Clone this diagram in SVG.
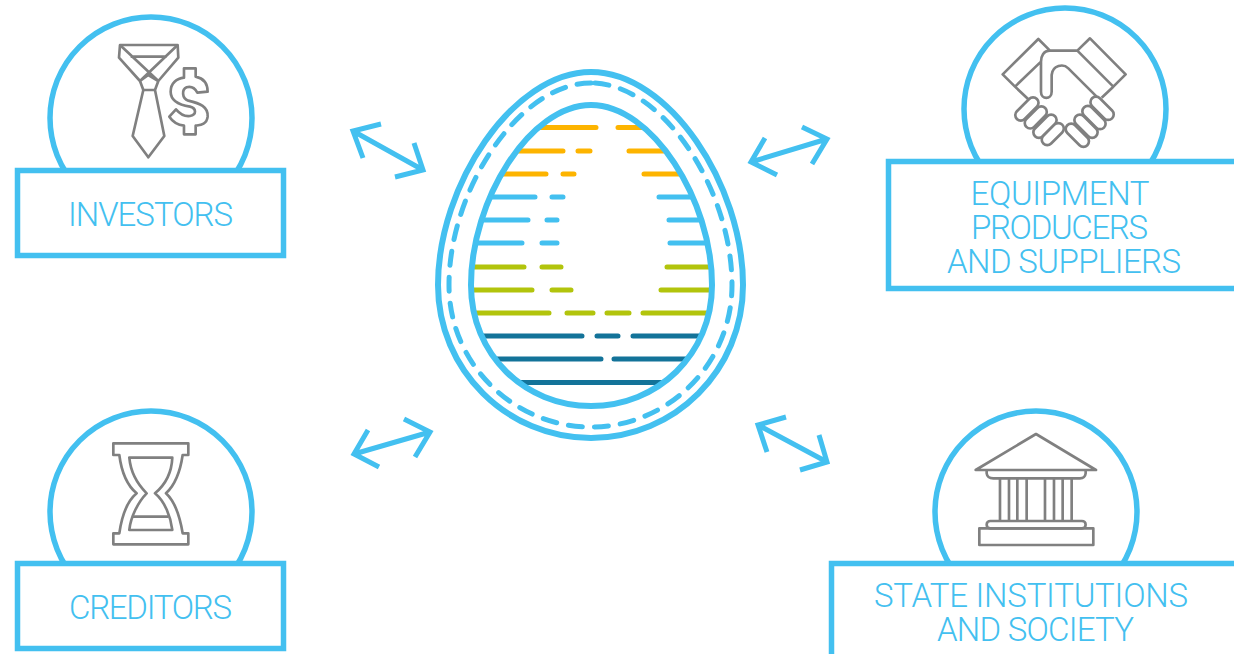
<svg xmlns="http://www.w3.org/2000/svg" width="1234" height="654" viewBox="0 0 1234 654">
<style>
.ln{fill:none;stroke:#43c0f0;stroke-width:6}
.cr{fill:none;stroke:#43c0f0;stroke-width:5.5}
.box{fill:#fff;stroke:#43c0f0;stroke-width:5.5}
.lbl{font-family:"Roboto","Liberation Sans",sans-serif;font-weight:300;font-size:33px;fill:#43c0f0;text-anchor:middle}
.ic{fill:none;stroke:#808080;stroke-width:8;stroke-linejoin:round}
.icw{fill:#fff;stroke:#808080;stroke-width:8}
.ar{fill:none;stroke:#43c0f0;stroke-width:5;stroke-linejoin:miter}
.b{fill:none;stroke-width:5;stroke-linecap:round}
</style>
<defs>
<clipPath id="eggclip"><path d="M591 105C530 105 471 200 471 285C471 355 525 406 591 406C657 406 712 355 712 285C712 200 652 105 591 105Z"/></clipPath>
</defs>
<g id="investors">
<circle class="cr" cx="151" cy="118" r="101"/>
<rect class="box" x="17.500" y="170.500" width="266" height="85"/>
<text class="lbl" x="150.500" y="226" textLength="165" lengthAdjust="spacing">INVESTORS</text>
<g transform="translate(40 10) scale(.3333)">
<path class="ic" d="M240 105H413L415 143L355 213L345 240L373 378L325 442L278 378L310 240L300 213L237 143Z"/>
<path class="ic" d="M240 105L355 213M413 105L300 213M272 140H380M310 240H345M300 213L325 195L355 213"/>
<path class="ic" d="M432 175H467V200C490 205 503 220 503 245L472 248C465 235 455 228 440 232C425 238 425 265 445 272C480 280 505 290 503 320C500 345 480 345 467 347V373H432V347C415 345 398 335 388 320L408 298C420 312 435 320 450 318C470 315 470 295 450 290C420 285 392 275 392 245C392 220 410 205 432 203Z"/>
</g>
</g>
<g id="equipment">
<circle class="cr" cx="1065" cy="109" r="101"/>
<rect class="box" x="888.500" y="161.500" width="360" height="127"/>
<text class="lbl" x="1060" y="205" textLength="179" lengthAdjust="spacing">EQUIPMENT</text>
<text class="lbl" x="1059.500" y="239" textLength="177" lengthAdjust="spacing">PRODUCERS</text>
<text class="lbl" x="1064" y="273" textLength="234" lengthAdjust="spacing">AND SUPPLIERS</text>
<g transform="translate(960 0) scale(.3333)">
<path class="ic" d="M270 152L235 117L128 223L165 260L205 298M165 260L243 185M352 152L390 115L497 223L460 260L425 293M460 260L352 152H270C250 152 243 170 243 185V275C243 300 275 300 275 275V225C278 195 310 190 325 205L410 290"/>
<rect class="icw" x="158" y="311" width="85" height="33" rx="16.500" transform="rotate(-45 200 327)"/>
<rect class="icw" x="187" y="336" width="80" height="33" rx="16.500" transform="rotate(-45 227 352)"/>
<rect class="icw" x="212" y="362" width="85" height="33" rx="16.500" transform="rotate(-45 255 378)"/>
<rect class="icw" x="238" y="386" width="80" height="33" rx="16.500" transform="rotate(-45 278 402)"/>
<rect class="icw" x="384" y="309" width="85" height="33" rx="16.500" transform="rotate(45 427 325)"/>
<rect class="icw" x="360" y="336" width="85" height="33" rx="16.500" transform="rotate(45 402 352)"/>
<rect class="icw" x="336" y="362" width="85" height="33" rx="16.500" transform="rotate(45 378 378)"/>
<rect class="icw" x="310" y="389" width="85" height="33" rx="16.500" transform="rotate(45 352 405)"/>
</g>
</g>
<g id="creditors">
<circle class="cr" cx="151" cy="512" r="101"/>
<rect class="box" x="17.500" y="563.500" width="266" height="85"/>
<text class="lbl" x="150.500" y="619" textLength="163" lengthAdjust="spacing">CREDITORS</text>
<g transform="translate(40 410) scale(.3333)">
<path class="ic" d="M220 100H445V135H428C420 190 405 225 378 250C405 275 420 320 428 370H445V403H220V370H238C245 320 260 275 290 250C260 225 245 190 238 135H220Z"/>
<path class="ic" d="M268 143H397C395 190 375 225 345 250C375 275 392 320 397 360H268C272 320 295 275 320 250C295 225 272 190 268 143Z"/>
<path class="ic" d="M278 320H385"/>
</g>
</g>
<g id="state">
<circle class="cr" cx="1036" cy="512" r="101"/>
<rect class="box" x="831.500" y="563.500" width="420" height="110"/>
<text class="lbl" x="1031" y="607" textLength="314" lengthAdjust="spacing">STATE INSTITUTIONS</text>
<text class="lbl" x="1035.500" y="641" textLength="197" lengthAdjust="spacing">AND SOCIETY</text>
<g transform="translate(930 410) scale(.3333)">
<path class="ic" d="M137 180L318 72L498 180Z"/>
<path class="ic" d="M170 183V190Q172 205 190 205H450Q465 205 467 190V183"/>
<path class="ic" d="M210 205V333M237 205V333M262 205V333M290 205V333M345 205V333M372 205V333M398 205V333M425 205V333"/>
<rect class="ic" x="170" y="333" width="297" height="22" rx="11"/>
<rect class="ic" x="148" y="355" width="342" height="50"/>
</g>
</g>
<g id="egg">
<g clip-path="url(#eggclip)">
<g stroke="#fdb400" class="b">
<path d="M530 127.500H596M618 127.500H650M510 151H563M578 151H590M629 151H675M495 174H546M563 174H574M644 174H690"/>
</g>
<g stroke="#43c0f0" class="b">
<path d="M480 197H535M552 197H563M659 197H700M472 220H528M547 220H557M669 220H710M465 243H522M542 243H557M670 243H715"/>
</g>
<g stroke="#b2c40c" class="b">
<path d="M460 267H524M542 267H561M667 267H720M460 290H532M552 290H571M661 290H720M465 313H549M567 313H593M607 313H629M643 313H715"/>
</g>
<g stroke="#137399" class="b">
<path d="M475 336H582M597 336H618M633 336H705M490 359H601M614 359H695M510 382.500H675"/>
</g>
</g>
<path class="ln" d="M591 105C530 105 471 200 471 285C471 355 525 406 591 406C657 406 712 355 712 285C712 200 652 105 591 105Z"/>
<path class="ln" d="M591 72C513 72 438 185 438 285C438 370 507 438 591 438C675 438 743 370 743 285C743 185 669 72 591 72Z"/>
<path fill="none" stroke="#43c0f0" stroke-width="5" stroke-linecap="round" stroke-dasharray="14 12" d="M591 83C519 83 449 190 449 285C449 365 515 427 591 427C667 427 732 365 732 285C732 190 663 83 591 83Z"/>
</g>
<g id="connectors">
<path class="ar" d="M381 124L353 131L363 158M353 131L423 170M414 143L423 170L395 177"/>
<path class="ar" d="M765 138L751 162L777 175M751 162L827 139M802 127L827 139L812 164"/>
<path class="ar" d="M368 430L354 454L379 467M354 454L430 432M404 419L430 432L415 457"/>
<path class="ar" d="M786 417L758 425L767 452M758 425L827 462M819 435L827 462L800 470"/>
</g>
</svg>
